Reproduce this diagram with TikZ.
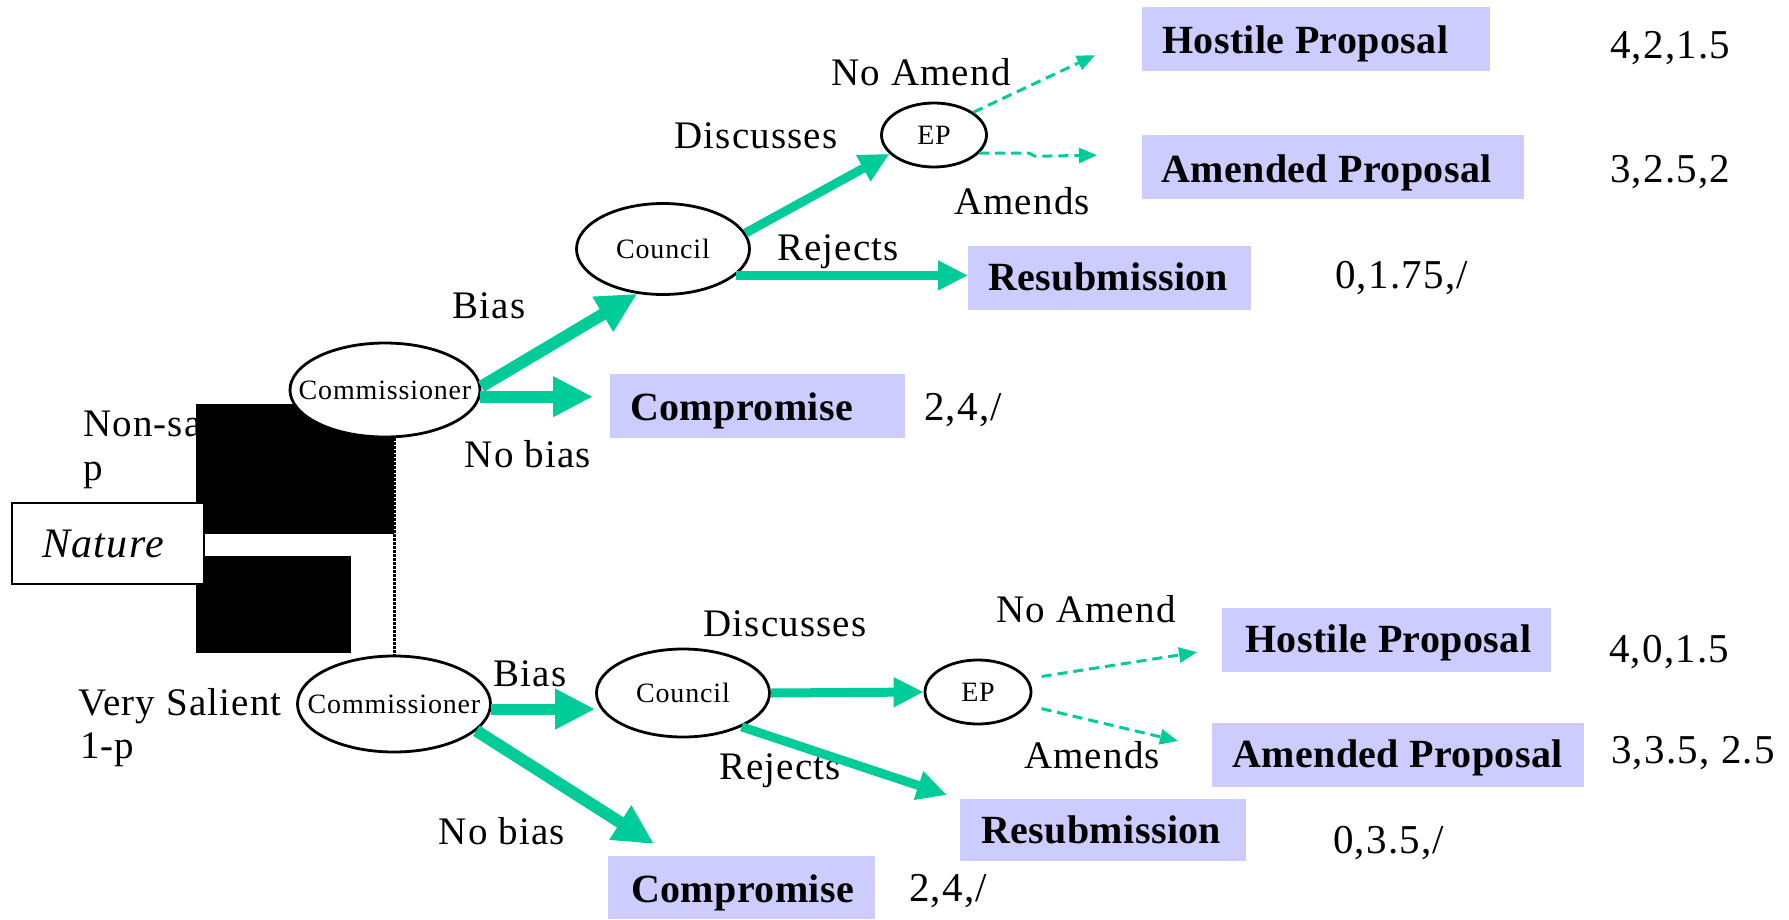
\documentclass[tikz,border=0pt]{standalone}
\usepackage{fontspec}
\setmainfont{Liberation Serif}[LetterSpace=3, BoldFeatures={LetterSpace=1}]
\usetikzlibrary{arrows.meta,calc,shapes.geometric}
\definecolor{grn}{RGB}{0,204,153}
\definecolor{lav}{RGB}{204,204,255}
\tikzset{
 ell/.style={ellipse, draw, line width=2.8pt, fill=white, inner sep=0pt, font=\fontsize{28}{32}\selectfont},
 lbl/.style={inner sep=0pt, anchor=base, font=\fontsize{39}{44}\selectfont},
 lblw/.style={lbl, anchor=base west},
 num/.style={inner sep=0pt, anchor=base west, font=\fontsize{41}{46}\selectfont},
 pbox/.style={fill=lav, inner sep=0pt, anchor=north west},
 btxt/.style={inner sep=0pt, anchor=base west, font=\bfseries\fontsize{40}{46}\selectfont},
 bigarr/.style={draw=grn, line width=12pt, -{Triangle[length=40pt,width=38pt]}},
 midarr/.style={draw=grn, line width=9pt, -{Triangle[length=30pt,width=28pt]}},
 dasharr/.style={draw=grn, line width=3pt, dash pattern=on 10pt off 6pt, -{Triangle[length=18pt,width=15pt]}},
}
\begin{document}
\begin{tikzpicture}[x=1pt,y=-1pt]
\path[use as bounding box] (0,0) rectangle (1789,919);

% left labels and blocks
\node[lblw] (nonsal) at (83,436) {Non-sa};
\node[lblw] (plab) at (83,480) {p};
\node[lblw] (vsal) at (78,715) {Very Salient};
\node[lblw] (omp) at (80,758) {1-p};
\fill (196,404) rectangle (394,534);
\fill (196,556) rectangle (351,653);
\node[draw, line width=2pt, fill=white, inner sep=0pt, anchor=north west,
      minimum width=192pt, minimum height=81pt,
      font=\itshape\fontsize{42}{46}\selectfont] (nature) at (11,502) {\hspace*{-10pt}Nature};

% ellipses
\node[ell, minimum width=190pt, minimum height=94pt] (comm1) at (385,390) {\makebox[0pt]{Commissioner}};
\node[ell, minimum width=173pt, minimum height=91pt] (council1) at (663,249) {\makebox[0pt]{Council}};
\node[ell, minimum width=105pt, minimum height=64pt] (ep1) at (934,135) {\makebox[0pt]{EP}};
\node[ell, minimum width=193pt, minimum height=96pt] (comm2) at (394,704) {\makebox[0pt]{Commissioner}};
\node[ell, minimum width=173pt, minimum height=88pt] (council2) at (683,693) {\makebox[0pt]{Council}};
\node[ell, minimum width=106pt, minimum height=64pt] (ep2) at (978,692) {\makebox[0pt]{EP}};

\draw[line width=3pt, densely dotted, black] (comm1.south -| comm2.north) -- (comm2.north);

% outcome boxes
\node[pbox, minimum width=348pt, minimum height=64pt] (host1) at (1142,7) {};
\node[btxt] (host1t) at (1162,53) {Hostile Proposal};
\node[pbox, minimum width=382pt, minimum height=64pt] (amend1) at (1142,135) {};
\node[btxt] (amend1t) at (1161,182) {Amended Proposal};
\node[pbox, minimum width=283pt, minimum height=64pt] (resub1) at (968,246) {};
\node[btxt] (resub1t) at (988,290) {Resubmission};
\node[pbox, minimum width=295pt, minimum height=64pt] (comp1) at (610,374) {};
\node[btxt] (comp1t) at (630,420) {Compromise};

\node[pbox, minimum width=329pt, minimum height=64pt] (host2) at (1222,608) {};
\node[btxt] (host2t) at (1245,652) {Hostile Proposal};
\node[pbox, minimum width=372pt, minimum height=64pt] (amend2) at (1212,723) {};
\node[btxt] (amend2t) at (1232,767) {Amended Proposal};
\node[pbox, minimum width=286pt, minimum height=62pt] (resub2) at (960,799) {};
\node[btxt] (resub2t) at (981,843) {Resubmission};
\node[pbox, minimum width=267pt, minimum height=63pt] (comp2) at (608,856) {};
\node[btxt] (comp2t) at (631,902) {Compromise};

% payoffs
\node[num] (p1) at (1610,58) {4,2,1.5};
\node[num] (p2) at (1610,182) {3,2.5,2};
\node[num] (p3) at (1335,288) {0,1.75,/};
\node[num] (p4) at (924,420) {2,4,/};
\node[num] (p5) at (1609,662) {4,0,1.5};
\node[num] (p6) at (1611,763) {3,3.5, 2.5};
\node[num] (p7) at (1333,853) {0,3.5,/};
\node[num] (p8) at (909,901) {2,4,/};

% branch labels
\node[lbl] (l1) at (921,85) {No Amend};
\node[lbl] (l2) at (756,148) {Discusses};
\node[lbl] (l3) at (1022,214) {Amends};
\node[lbl] (l4) at (838,260) {Rejects};
\node[lbl] (l5) at (489,318) {Bias};
\node[lbl] (l6) at (528,467) {No bias};
\node[lbl] (l7) at (530,686) {Bias};
\node[lbl] (l8) at (785,636) {Discusses};
\node[lbl] (l9) at (1086,622) {No Amend};
\node[lbl] (l10) at (1092,768) {Amends};
\node[lbl] (l11) at (780,779) {Rejects};
\node[lbl] (l12) at (502,844) {No bias};

% connectors (top)
\draw[bigarr] (comm1.2) -- (council1.240);
\draw[bigarr, shorten >=17pt] (comm1.-4) -- (comm1.-4 -| comp1.west);
\draw[midarr] (council1.11) -- (ep1.203);
\draw[midarr] (council1.-20) -- (council1.-20 -| resub1.west);
\draw[dasharr] (ep1.30) -- ($(host1.west)+(-47,16)$);
\draw[dasharr] (ep1.-22) -- ++(50,0) -- ++(6,3) -- ($(amend1.west)+(-45,-12)$);

% connectors (bottom)
\draw[bigarr, line width=11pt] (comm2.-3) -- (comm2.-3 -| council2.west);
\draw[bigarr] (comm2.-18) -- ($(comp2.north west)+(46,-12)$);
\draw[midarr] (council2.east) -- (ep2.west);
\draw[midarr] (council2.-30) -- ($(resub2.north west)+(-13,-4)$);
\draw[dasharr, shorten <=14pt] (ep2.15) -- ($(host2.west)+(-25,12)$);
\draw[dasharr, shorten <=14pt] (ep2.-15) -- ($(amend2.north west)+(-34,18)$);
\end{tikzpicture}
\end{document}
